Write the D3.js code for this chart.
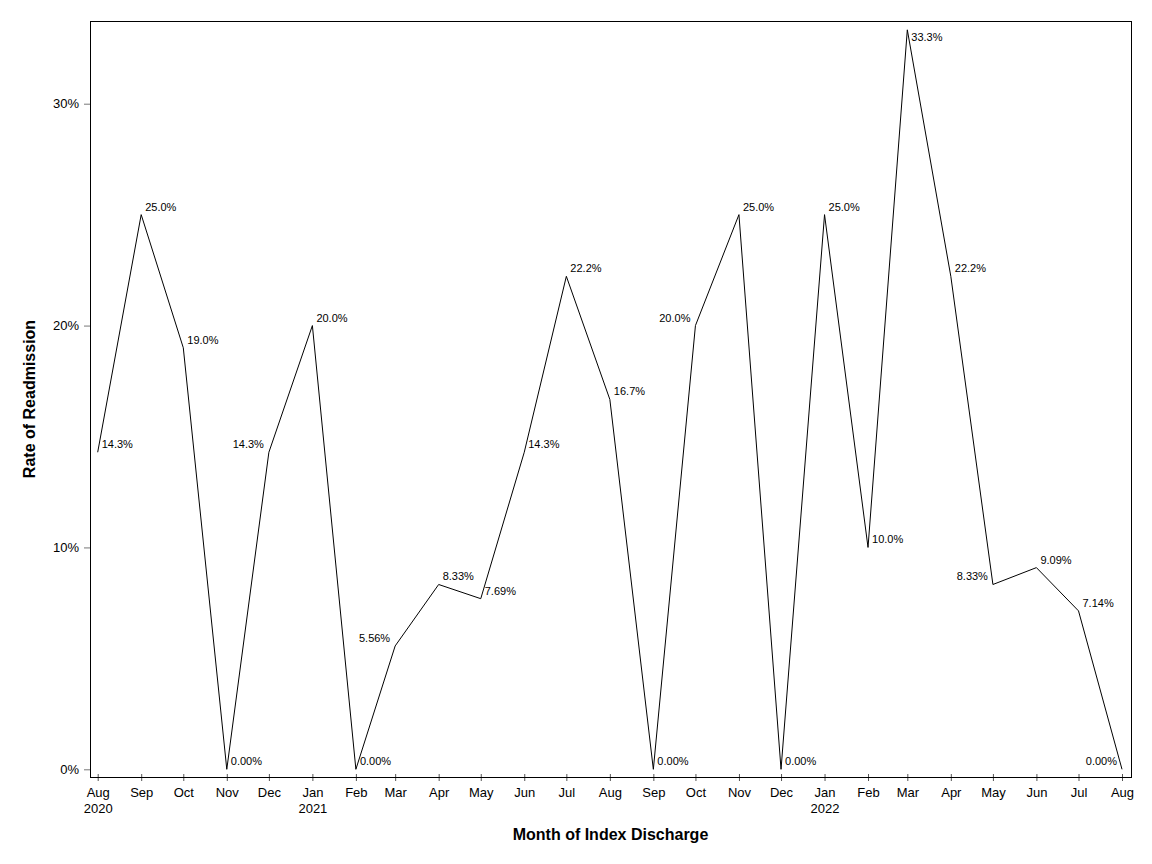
<!DOCTYPE html>
<html>
<head>
<meta charset="utf-8">
<script src="https://cdn.jsdelivr.net/npm/d3@7"></script>
<style>
  body { margin: 0; background: #fff; }
  svg { display: block; font-family: "Liberation Sans", Arial, sans-serif; }
</style>
</head>
<body>
<div id="chart"></div>
<script>
// month of index discharge (first of month)
var months = ['2020-08', '2020-09', '2020-10', '2020-11', '2020-12',
    '2021-01', '2021-02', '2021-03', '2021-04', '2021-05', '2021-06', '2021-07',
    '2021-08', '2021-09', '2021-10', '2021-11', '2021-12',
    '2022-01', '2022-02', '2022-03', '2022-04', '2022-05', '2022-06', '2022-07', '2022-08'];
// readmission rate
var rates = [0.1429, 0.25, 0.190, 0, 0.1429,
    0.20, 0, 0.0556, 0.0833, 0.0769, 0.1429, 0.2222,
    0.1667, 0, 0.20, 0.25, 0,
    0.25, 0.10, 0.3333, 0.2222, 0.0833, 0.0909, 0.0714, 0];
// which side the value label sits on
var labelSide = ['r', 'r', 'r', 'r', 'l',
    'r', 'r', 'l', 'r', 'r', 'r', 'r',
    'r', 'r', 'l', 'r', 'r',
    'r', 'r', 'rb', 'r', 'l', 'r', 'r', 'l'];
var yTicks = [0, 0.1, 0.2, 0.3];
var monthNames = ['Jan', 'Feb', 'Mar', 'Apr', 'May', 'Jun', 'Jul', 'Aug', 'Sep', 'Oct', 'Nov', 'Dec'];

var width = 1152, height = 864;
var plotLeft = 90, plotRight = 1131, plotTop = 21, plotBottom = 777;

var parse = d3.utcParse('%Y-%m');
var data = months.map(function (m, i) {
    return { date: parse(m), rate: rates[i], side: labelSide[i] };
});

var svg = d3.select('#chart').append('svg')
    .attr('width', width).attr('height', height);

var x = d3.scaleUtc()
    .domain([data[0].date, data[data.length - 1].date])
    .range([97.7, 1122]);
var y = d3.scaleLinear()
    .domain([0, 0.3])
    .range([769.3, 103.7]);

// y axis
var yAxis = svg.append('g')
    .attr('transform', 'translate(' + plotLeft + ',0)')
    .call(d3.axisLeft(y).tickValues(yTicks).tickFormat(d3.format('.0%')).tickSize(6).tickPadding(5));
yAxis.select('.domain').remove();
yAxis.selectAll('.tick line').attr('stroke', '#777');
yAxis.selectAll('.tick text')
    .attr('font-size', 13).attr('font-family', 'Liberation Sans, Arial, sans-serif')
    .attr('fill', '#000');

// x axis
var xAxis = svg.append('g')
    .attr('transform', 'translate(0,' + plotBottom + ')')
    .call(d3.axisBottom(x).tickValues(data.map(function (d) { return d.date; })).tickSize(4).tickFormat(''));
xAxis.select('.domain').remove();
xAxis.selectAll('.tick line').attr('y1', -3).attr('y2', 4).attr('stroke', '#555');
xAxis.selectAll('.tick text').remove();
xAxis.selectAll('.tick').each(function (d) {
    var t = d3.select(this).append('text')
        .attr('text-anchor', 'middle')
        .attr('font-size', 13)
        .attr('font-family', 'Liberation Sans, Arial, sans-serif')
        .attr('fill', '#000');
    t.append('tspan').attr('x', 0).attr('y', 20).text(monthNames[d.getUTCMonth()]);
    if (d.getUTCMonth() == 0 || d === data[0].date) {
        t.append('tspan').attr('x', 0).attr('y', 36).text(d.getUTCFullYear());
    }
});

// frame
svg.append('rect')
    .attr('x', plotLeft + 0.5).attr('y', plotTop + 0.5)
    .attr('width', plotRight - plotLeft).attr('height', plotBottom - plotTop)
    .attr('fill', 'none').attr('stroke', '#000').attr('stroke-width', 1);

// the line
var line = d3.line()
    .x(function (d) { return x(d.date); })
    .y(function (d) { return y(d.rate); });
svg.append('path')
    .datum(data)
    .attr('d', line)
    .attr('fill', 'none')
    .attr('stroke', '#000')
    .attr('stroke-width', 1);

// value labels
var fmt = function (v) {
    if (v == 0) return '0.00%';
    if (v < 0.1) return d3.format('.2%')(v);
    return d3.format('.1%')(v);
};
svg.append('g').selectAll('text')
    .data(data)
    .enter()
    .append('text')
    .attr('x', function (d) { return d.side == 'l' ? x(d.date) - 5 : x(d.date) + 4; })
    .attr('y', function (d) { return d.side == 'rb' ? y(d.rate) + 11 : y(d.rate) - 4; })
    .attr('text-anchor', function (d) { return d.side == 'l' ? 'end' : 'start'; })
    .attr('font-size', 11)
    .attr('fill', '#000')
    .text(function (d) { return fmt(d.rate); });

// axis titles
svg.append('text')
    .attr('x', (plotLeft + plotRight) / 2).attr('y', 840)
    .attr('text-anchor', 'middle')
    .attr('font-size', 16).attr('font-weight', 'bold')
    .text('Month of Index Discharge');
svg.append('text')
    .attr('transform', 'translate(35,' + (plotTop + plotBottom) / 2 + ') rotate(-90)')
    .attr('text-anchor', 'middle')
    .attr('font-size', 16).attr('font-weight', 'bold')
    .text('Rate of Readmission');
</script>
</body>
</html>
